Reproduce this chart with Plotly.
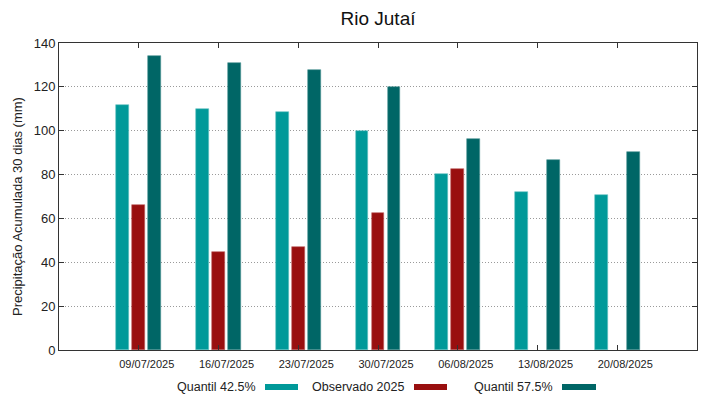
import plotly.graph_objects as go

dates = ["09/07/2025", "16/07/2025", "23/07/2025", "30/07/2025", "06/08/2025", "13/08/2025", "20/08/2025"]
q425 = [111.6, 109.8, 108.7, 99.7, 80.4, 71.9, 70.8]
obs2025 = [66.1, 44.7, 47.0, 62.5, 82.4, None, None]
q575 = [134.1, 130.7, 127.5, 119.8, 96.2, 86.5, 90.1]

series_names = ["Quantil 42.5%", "Observado 2025", "Quantil 57.5%"]
colors = ["#009999", "#990f0f", "#006666"]
edge = ["#66c2c2", "#c06060", "#4d9494"]
offsets = [-0.2, 0.0, 0.2]

idx = list(range(len(dates)))
fig = go.Figure()
for name, vals, c, e, off in zip(series_names, [q425, obs2025, q575], colors, edge, offsets):
    fig.add_trace(go.Bar(
        x=[i + off for i in idx], y=vals, name=name, width=0.16,
        marker=dict(color=c, line=dict(color=e, width=0.6)),
        showlegend=False,
    ))

font = "Liberation Sans, Arial, sans-serif"
fig.update_layout(
    width=719, height=399,
    margin=dict(l=59, r=22, t=43, b=49),
    paper_bgcolor="white", plot_bgcolor="white",
    font=dict(family=font, color="#222"),
    title=dict(text="Rio Jutaí", x=0.5, xref="paper", y=1 - 18 / 399, yanchor="middle",
               font=dict(size=19, color="#111")),
    bargap=0,
    xaxis=dict(range=[-1, 7], tickmode="array", tickvals=idx, ticktext=dates,
               ticks="inside", ticklen=5, tickcolor="#333", mirror="allticks",
               showline=True, linecolor="#333", linewidth=1, showgrid=False, zeroline=False,
               tickfont=dict(size=11, color="#222"), ticklabelshift=8, ticklabelstandoff=4),
    yaxis=dict(range=[0, 140], tickvals=[0, 20, 40, 60, 80, 100, 120, 140],
               ticks="inside", ticklen=5, tickcolor="#333", mirror="allticks",
               showline=True, linecolor="#333", linewidth=1,
               showgrid=True, gridcolor="#9a9a9a", griddash="1px,2px", gridwidth=1, zeroline=False,
               tickfont=dict(size=13, color="#222")),
)

# y-axis title
fig.add_annotation(text="Precipitação Acumulada 30 dias (mm)", textangle=-90,
                   xref="paper", yref="paper", x=-(59 - 17) / 638, y=(350 - 207) / 307,
                   xanchor="center", yanchor="middle", showarrow=False,
                   font=dict(size=13, color="#222"))

# legend (text followed by sample, gnuplot style)
leg = [(258, 265, 298), (406, 414, 447), (555, 562, 596)]
ly = 387
for name, c, e, (tx, sx0, sx1) in zip(series_names, colors, edge, leg):
    fig.add_annotation(text=name, xref="paper", yref="paper",
                       x=(tx - 59) / 638, y=(350 - ly) / 307, xanchor="right", yanchor="middle",
                       showarrow=False, font=dict(size=12.5, color="#222"))
    fig.add_shape(type="rect", xref="paper", yref="paper",
                  x0=(sx0 - 59) / 638, x1=(sx1 - 59) / 638,
                  y0=(350 - ly - 3) / 307, y1=(350 - ly + 3) / 307,
                  fillcolor=c, line=dict(color=c, width=0))

fig.write_html("out.html", config={"displayModeBar": False},
               post_script="document.body.style.margin='0px';")
